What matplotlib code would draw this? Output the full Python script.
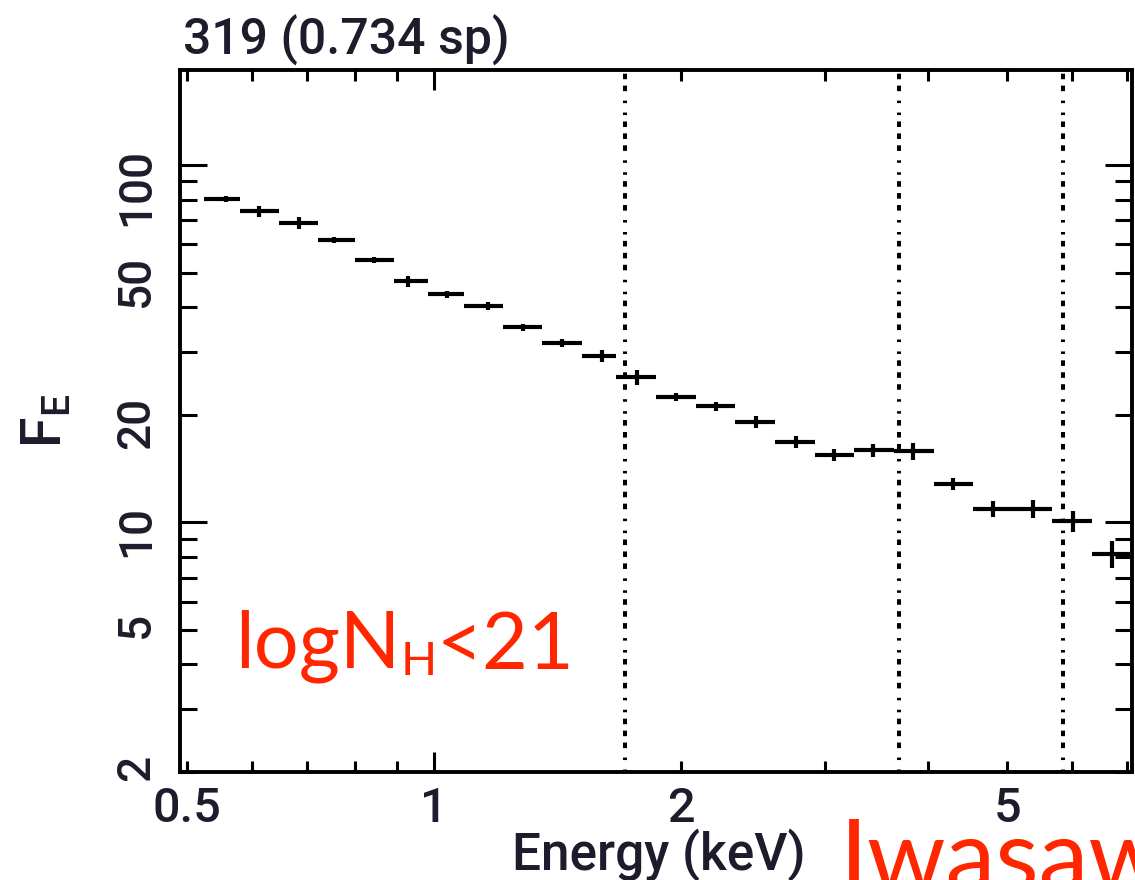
import math

import matplotlib
matplotlib.use("Agg")
import matplotlib.pyplot as plt
from matplotlib.ticker import LogLocator, FuncFormatter

# energy bins (keV) and flux of the stacked spectrum
e_lo = [0.524, 0.580, 0.647, 0.722, 0.801, 0.894, 0.983, 1.088, 1.214, 1.354, 1.515, 1.667,
        1.866, 2.087, 2.329, 2.605, 2.915, 3.252, 3.639, 4.073, 4.543, 5.083, 5.672, 6.345]
e_hi = [0.580, 0.647, 0.722, 0.801, 0.894, 0.983, 1.088, 1.214, 1.354, 1.515, 1.667, 1.866,
        2.087, 2.329, 2.605, 2.915, 3.252, 3.639, 4.073, 4.543, 5.083, 5.672, 6.345, 7.063]
e_mid = [0.557, 0.612, 0.684, 0.755, 0.845, 0.930, 1.036, 1.164, 1.284, 1.432, 1.603, 1.768,
         1.973, 2.208, 2.470, 2.763, 3.075, 3.431, 3.838, 4.295, 4.806, 5.377, 6.010, 6.710]
flux = [80.3, 74.3, 68.8, 61.7, 54.2, 47.3, 43.5, 40.3, 35.2, 31.7, 29.2, 25.5,
        22.4, 21.1, 19.1, 16.75, 15.4, 15.9, 15.8, 12.8, 10.9, 10.9, 10.06, 8.14]
flux_err = [1.6, 2.7, 2.7, 1.2, 1.1, 1.7, 1.0, 1.05, 0.8, 0.8, 1.15, 1.2,
            0.6, 0.55, 0.75, 0.65, 0.6, 0.63, 0.84, 0.5, 0.58, 0.65, 0.67, 0.71]
line_energies = [1.71, 3.69, 5.85]

title = "319 (0.734 sp)"
nh_text = ("logN", "H", "<21")
credit = "Iwasaw"

ink = "#1c1c2c"
red = "#ff2600"
plt.rcParams["font.family"] = ["Roboto", "Liberation Sans", "DejaVu Sans"]
plt.rcParams["font.weight"] = "medium"
plt.rcParams["lines.scale_dashes"] = False
humanist = ["Lato", "DejaVu Sans"]

fig = plt.figure(figsize=(11.35, 8.8), dpi=100)
ax = fig.add_axes([0.1586, 0.1227, 0.8388, 0.7978])

xerr = [[m - lo for m, lo in zip(e_mid, e_lo)], [hi - m for m, hi in zip(e_mid, e_hi)]]
ax.errorbar(e_mid, flux, xerr=xerr, yerr=flux_err, fmt="none", ecolor="black",
            elinewidth=3.0, capsize=0)

for e in line_energies:
    ax.axvline(e, color="black", lw=2.9,
               linestyle=(0, (1.8, 6.8, 1.8, 6.8, 4.0, 4.6, 4.0, 4.6, 4.0, 4.6)))

ax.set_xscale("log")
ax.set_yscale("log")
ax.set_xlim(0.490, 7.10)
ax.set_ylim(2.0, 184.6)


def major_fmt(v, pos):
    return "%g" % v


def minor_fmt(v, pos):
    mant = v / 10 ** math.floor(math.log10(v) + 1e-9)
    return "%g" % v if abs(mant - 2) < 1e-6 or abs(mant - 5) < 1e-6 else ""


for axis in (ax.xaxis, ax.yaxis):
    axis.set_major_locator(LogLocator(base=10))
    axis.set_minor_locator(LogLocator(base=10, subs=range(2, 10)))
    axis.set_major_formatter(FuncFormatter(major_fmt))
    axis.set_minor_formatter(FuncFormatter(minor_fmt))

ax.tick_params(which="both", direction="in", top=True, right=True, width=2.2,
               colors="black", labelcolor=ink)
ax.tick_params(axis="x", which="major", length=14.4, pad=10, labelsize=35)
ax.tick_params(axis="x", which="minor", length=8, pad=10, labelsize=35)
ax.tick_params(axis="y", which="major", length=19.5, pad=16, labelsize=33, labelrotation=90)
ax.tick_params(axis="y", which="minor", length=12, pad=16, labelsize=33, labelrotation=90)
for side in ax.spines.values():
    side.set_linewidth(2.8)

fig.text(659 / 1135, 1 - 870 / 880, "Energy (keV)", fontsize=37, color=ink,
         ha="center", va="baseline")
fig.text(45 / 1135, 1 - 421 / 880, r"F$_\mathregular{E}$", rotation=90, fontsize=40,
         color=ink, ha="center", va="center")
fig.text(183 / 1135, 1 - 55 / 880, title, fontsize=36, color=ink, ha="left", va="baseline")

# column density annotation, with a lowered small "H"
t1 = fig.text(235 / 1135, 1 - 667 / 880, nh_text[0], fontsize=57, color=red,
              family=humanist, weight="normal", ha="left", va="baseline")
t2 = ax.annotate(nh_text[1], xy=(1, 0), xycoords=t1, fontsize=34, color=red,
                 family=humanist, weight="normal", ha="left", va="bottom",
                 annotation_clip=False)
ax.annotate(nh_text[2], xy=(1, 0), xycoords=t2, fontsize=57, color=red,
            family=humanist, weight="normal", ha="left", va="bottom", annotation_clip=False)

fig.text(840 / 1135, 1 - 890 / 880, credit, fontsize=72, color=red,
         family=humanist, weight="normal", ha="left", va="baseline")

fig.savefig("out.png", dpi=100)
